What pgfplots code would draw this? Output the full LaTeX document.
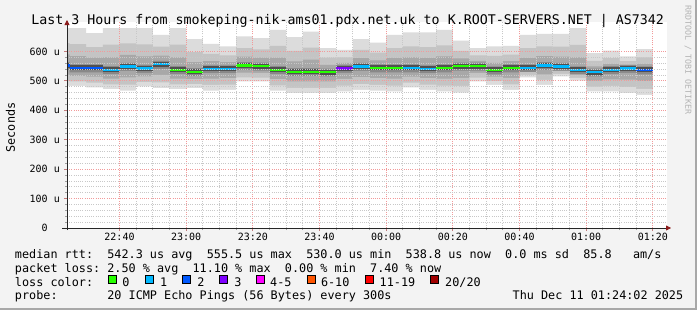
\documentclass[border=0pt]{standalone}
\usepackage{fontspec}
\setmainfont{DejaVu Sans Mono}
\usepackage{pgfplots}
\pgfplotsset{compat=1.18}
\usepackage{pgfplotstable}
\usetikzlibrary{arrows.meta}
\definecolor{bg}{HTML}{F3F3F3}
\definecolor{frameD}{HTML}{A8A8A8}
\definecolor{LA}{HTML}{DCDCDC}
\definecolor{LB}{HTML}{C4C4C4}
\definecolor{LC}{HTML}{A8A8A8}
\definecolor{LD}{HTML}{888888}
\definecolor{LE}{HTML}{505050}
\definecolor{cz}{HTML}{26FF00}
\definecolor{ca}{HTML}{00B8FF}
\definecolor{cb}{HTML}{0059FF}
\definecolor{cc}{HTML}{7E00FF}
\definecolor{cd}{HTML}{FF00FF}
\definecolor{ce}{HTML}{FF5500}
\definecolor{cf}{HTML}{FF0000}
\definecolor{cg}{HTML}{A10000}
\definecolor{mgrid}{HTML}{F29A9A}
\definecolor{ngrid}{HTML}{C8C8C8}
\definecolor{wm}{HTML}{B4B4B4}
\definecolor{arr}{HTML}{8B1A1A}
\newcommand\ftitle{\fontsize{13.3bp}{16bp}\selectfont}
\newcommand\flegend{\fontsize{11.8bp}{14bp}\selectfont}
\newcommand\ftick{\fontsize{10bp}{12bp}\selectfont}
\newcommand\fwm{\fontsize{8.3bp}{10bp}\selectfont}

\pgfplotstableread{
x lo a b c d e f hi
24.25 483 500 521 537 564 590 628 679
25 483 498 517 529 556 584 625 679
30 478 494 514 529 556 579 615 662
35 472 488 508 523 550 580 623 679
40 467 487 512 534 561 588 627 679
45 481 496 515 527 554 583 624 679
50 475 495 520 541 568 586 616 656
55 472 488 508 523 550 580 623 679
60 475 489 506 516 543 564 598 642
65 467 486 508 526 553 567 592 626
70 469 487 509 526 553 564 587 617
75 498 512 528 537 564 582 611 651
80 498 511 527 535 562 579 607 645
85 467 485 506 523 550 579 619 673
90 458 476 498 516 543 566 602 649
95 458 476 498 516 543 572 613 667
100 458 476 498 515 542 554 579 611
105 464 484 507 527 554 561 580 605
110 469 489 513 534 561 577 605 642
115 467 486 509 529 556 570 596 630
120 464 484 508 529 556 578 611 656
125 478 494 514 529 556 580 617 665
130 469 487 509 526 553 578 615 665
135 464 484 508 529 556 583 621 673
140 460 483 510 535 562 576 602 637
145 498 511 527 535 562 568 587 611
150 486 499 514 522 549 561 585 617
155 469 488 510 529 556 567 589 619
160 512 520 530 530 556 578 611 656
165 486 503 522 537 564 584 617 660
170 515 524 534 534 561 582 616 660
175 501 510 521 522 549 580 622 679
180 464 480 500 515 542 549 568 594
185 464 483 505 523 550 558 577 603
190 458 479 504 527 554 554 567 583
195 452 473 499 522 549 558 580 608
200 452 473 499 522 549 558 580 608
}\smoke

\pgfplotstableread{
x y
55 538
60 538
60 nan
60 531
65 531
65 nan
75 552
80 552
80 nan
80 550
85 550
85 nan
85 538
90 538
90 nan
90 531
100 531
100 nan
100 530
105 530
105 nan
115 544
125 544
125 nan
135 544
140 544
140 nan
140 550
150 550
150 nan
150 537
155 537
155 nan
155 544
160 544
}\medgreen

\pgfplotstableread{
x y
35 538
40 538
40 nan
40 549
45 549
45 nan
45 542
50 542
50 nan
50 556
55 556
55 nan
65 541
75 541
75 nan
110 549
115 549
115 nan
125 544
130 544
130 nan
130 541
135 541
135 nan
160 544
165 544
165 nan
165 552
170 552
170 nan
170 549
175 549
175 nan
175 537
180 537
180 nan
180 530
185 530
185 nan
185 538
190 538
190 nan
190 542
195 542
}\medlblue

\pgfplotstableread{
x y
24.25 552
25 552
25 nan
25 544
35 544
35 nan
195 537
200 537
}\meddblue

\pgfplotstableread{
x y
105 542
110 542
}\medpurple

\begin{document}\frenchspacing
\begin{tikzpicture}
\begin{scope}[x=1bp,y=1bp]
\fill[bg] (0,0) rectangle (697,310);
\fill[frameD] (0,0) rectangle (697,2.5);
\fill[frameD] (694.5,0) rectangle (697,310);
\end{scope}
\begin{axis}[
  scale only axis, width=600bp, height=206bp,
  at={(67bp,82bp)}, anchor=south west,
  xmin=24.25, xmax=204.25, ymin=0, ymax=700,
  axis on top,
  axis background/.style={fill=white},
  axis lines=left,
  axis line style={draw=black!85, line width=0.8bp, -{Triangle[length=5bp,width=5bp,color=arr]}},
  x axis line style={shorten <=-5bp, shorten >=-4bp},
  y axis line style={shorten <=-2bp, shorten >=-2bp},
  xtick={40,60,...,200},
  xticklabels={22:40,23:00,23:20,23:40,00:00,00:20,00:40,01:00,01:20},
  ytick={0,100,...,600},
  yticklabels={0\phantom{00},100 u,200 u,300 u,400 u,500 u,600 u},
  minor x tick num=3, minor y tick num=4,
  tick align=outside,
  major tick length=3bp, minor tick length=2bp,
  major tick style={draw=mgrid!80!black, line width=0.8bp},
  minor tick style={draw=ngrid!80!black, line width=0.8bp},
  grid=both,
  major grid style={draw=mgrid, line width=0.8bp, dash pattern=on 1bp off 1.2bp},
  minor grid style={draw=ngrid, line width=0.8bp, dash pattern=on 1bp off 1.2bp},
  tick label style={font=\ftick, inner sep=0pt},
  xticklabel style={anchor=base, yshift=-9.7bp},
  yticklabel style={anchor=east, xshift=-4bp},
  unbounded coords=jump,
]
\addplot[const plot, fill=LA, draw=none] table[x=x,y=hi]{\smoke} \closedcycle;
\addplot[const plot, fill=LB, draw=none] table[x=x,y=f]{\smoke} \closedcycle;
\addplot[const plot, fill=LC, draw=none] table[x=x,y=e]{\smoke} \closedcycle;
\addplot[const plot, fill=LD, draw=none] table[x=x,y=d]{\smoke} \closedcycle;
\addplot[const plot, fill=LC, draw=none] table[x=x,y=c]{\smoke} \closedcycle;
\addplot[const plot, fill=LB, draw=none] table[x=x,y=b]{\smoke} \closedcycle;
\addplot[const plot, fill=LA, draw=none] table[x=x,y=a]{\smoke} \closedcycle;
\addplot[const plot, fill=white, draw=none] table[x=x,y=lo]{\smoke} \closedcycle;
\addplot[LE, line width=5bp, no marks] table[x=x,y=y]{\medgreen};
\addplot[LE, line width=5bp, no marks] table[x=x,y=y]{\medlblue};
\addplot[LE, line width=5bp, no marks] table[x=x,y=y]{\meddblue};
\addplot[LE, line width=5bp, no marks] table[x=x,y=y]{\medpurple};
\addplot[cz, line width=2.2bp, no marks] table[x=x,y=y]{\medgreen};
\addplot[ca, line width=2.2bp, no marks] table[x=x,y=y]{\medlblue};
\addplot[cb, line width=2.2bp, no marks] table[x=x,y=y]{\meddblue};
\addplot[cc, line width=2.2bp, no marks] table[x=x,y=y]{\medpurple};
\end{axis}
\begin{scope}[x=1bp,y=1bp]
\node[anchor=base, inner sep=0] at (347.7,286) {\ftitle Last 3 Hours from smokeping-nik-ams01.pdx.net.uk to K.ROOT-SERVERS.NET | AS7342};
\node[rotate=90, inner sep=0] at (10.5,182.5) {\flegend Seconds};
\node[rotate=-90, inner sep=0, text=wm] at (688,250) {\fwm RRDTOOL / TOBI OETIKER};
\node[anchor=base west, inner sep=0] at (14.8,51.7) {\flegend median rtt:~~542.3 us avg~~555.5 us max~~530.0 us min~~538.8 us now~~0.0 ms sd~~85.8~~~am/s};
\node[anchor=base west, inner sep=0] at (14.8,37.7) {\flegend packet loss: 2.50 \% avg~~11.10 \% max~~0.00 \% min~~7.40 \% now};
\node[anchor=base west, inner sep=0] at (14.8,24) {\flegend loss color:};
\node[anchor=base west, inner sep=0] at (14.8,10.5) {\flegend probe:~~~~~~~20 ICMP Echo Pings (56 Bytes) every 300s};
\node[anchor=base west, inner sep=0] at (512.5,10.5) {\flegend Thu Dec 11 01:24:02 2025};
\foreach \bx/\lx/\col/\lab in {108/122.2/cz/{0}, 145.5/160/ca/{1}, 182.7/197.2/cb/{2}, 219.7/234.2/cc/{3}, 256.7/270/cd/{4-5}, 307.3/320.8/ce/{6-10}, 365.3/379.5/cf/{11-19}, 430.7/445/cg/{20/20}}{
  \fill[\col, draw=black, line width=0.8bp] (\bx,27) rectangle ++(8,8);
  \node[anchor=base west, inner sep=0] at (\lx,24) {\flegend \lab};
}
\end{scope}
\end{tikzpicture}
\end{document}
